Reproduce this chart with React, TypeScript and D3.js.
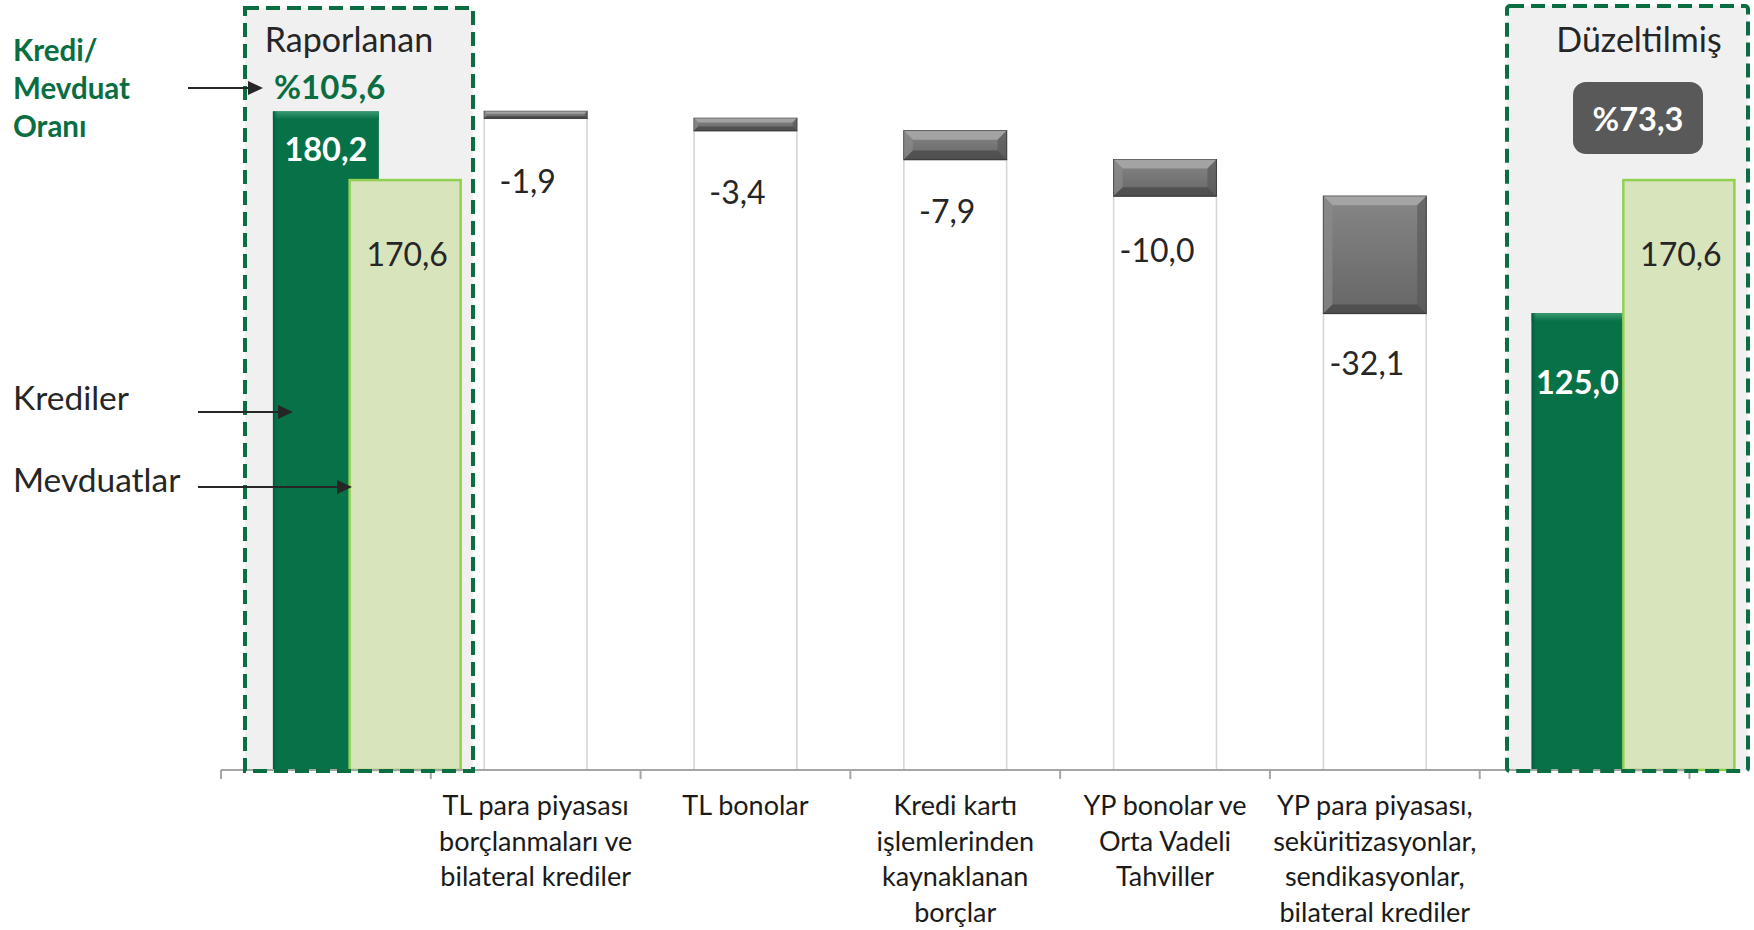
import React from "react";
import * as d3 from "d3";

// ---------- data ----------
const categoryLines: string[][] = [
  [],
  ["TL para piyasası", "borçlanmaları ve", "bilateral krediler"],
  ["TL bonolar"],
  ["Kredi kartı", "işlemlerinden", "kaynaklanan", "borçlar"],
  ["YP bonolar ve", "Orta Vadeli", "Tahviller"],
  ["YP para piyasası,", "seküritizasyonlar,", "sendikasyonlar,", "bilateral krediler"],
  [],
];
const krediler: (number | null)[] = [180.2, null, null, null, null, null, 125.0];
const mevduatlar: (number | null)[] = [170.6, null, null, null, null, null, 170.6];
const adjustments: (number | null)[] = [null, -1.9, -3.4, -7.9, -10.0, -32.1, null];
const oranlar = [105.6, 73.3];
const boxTitles = ["Raporlanan", "Düzeltilmiş"];
const ratioTitleLines = ["Kredi/", "Mevduat", "Oranı"];
const legendLabels = ["Krediler", "Mevduatlar"];

// ---------- layout ----------
const darkLabelDy = [50, 81];
const stepLabelDy = [75, 73, 63, 66, 62];
const W = 1754;
const H = 930;
const AXIS_Y = 770;
const FONT = "Lato, 'Open Sans', sans-serif";
const TXT = "#262626";
const DARK_GREEN = "#077148";
const LIGHT_GREEN = "#d8e4bc";
const LIGHT_GREEN_EDGE = "#92d050";
const BOX_GREEN = "#0a6e42";

const trLocale = d3.formatLocale({
  decimal: ",",
  thousands: ".",
  grouping: [3],
  currency: ["", ""],
  minus: "-",
});
const fmt = trLocale.format(".1f");

const idx = categoryLines.map((_, i) => i);
const x = d3.scaleBand<number>().domain(idx).range([221, 1689.5]).paddingInner(0).paddingOuter(0);
const x2 = d3.scaleBand<number>().domain(idx).range([299, 1785]).paddingInner(0).paddingOuter(0);
const y = d3.scaleLinear().domain([0, 200]).range([AXIS_Y, 39]);
const y2 = d3.scaleLinear().domain([0, 200]).range([AXIS_Y, 78.4]);

const greyW = x.bandwidth() * 0.49;
const darkW = x.bandwidth() * 0.505;
const lightW = x2.bandwidth() * 0.523;

// waterfall steps
type Step = { i: number; start: number; end: number; v: number };
const steps: Step[] = [];
{
  let running = krediler[0] as number;
  adjustments.forEach((a, i) => {
    if (a == null) return;
    steps.push({ i, start: running, end: running + a, v: a });
    running += a;
  });
}

function Arrow({ x1, x2: xe, yy }: { x1: number; x2: number; yy: number }) {
  return (
    <g>
      <line x1={x1} x2={xe - 12} y1={yy} y2={yy} stroke={TXT} strokeWidth={1.8} />
      <path d={`M${xe},${yy} L${xe - 15},${yy - 7} L${xe - 15},${yy + 7} Z`} fill={TXT} />
    </g>
  );
}

function GreyBar({ x0, y0, w, h }: { x0: number; y0: number; w: number; h: number }) {
  const b = Math.min(9, h / 3);
  return (
    <g>
      <rect x={x0} y={y0} width={w} height={h} fill="url(#greyGrad)" stroke="#3a3a3a" strokeWidth={1.2} />
      <path d={`M${x0},${y0} L${x0 + w},${y0} L${x0 + w - b},${y0 + b} L${x0 + b},${y0 + b} Z`} fill="#a9a9a9" opacity={0.85} />
      <path d={`M${x0},${y0} L${x0 + b},${y0 + b} L${x0 + b},${y0 + h - b} L${x0},${y0 + h} Z`} fill="#8a8a8a" opacity={0.7} />
      <path d={`M${x0 + w},${y0} L${x0 + w - b},${y0 + b} L${x0 + w - b},${y0 + h - b} L${x0 + w},${y0 + h} Z`} fill="#555" opacity={0.6} />
      <path d={`M${x0},${y0 + h} L${x0 + b},${y0 + h - b} L${x0 + w - b},${y0 + h - b} L${x0 + w},${y0 + h} Z`} fill="#404040" opacity={0.6} />
    </g>
  );
}

export default function App() {
  const dark = krediler
    .map((v, i) => ({ v, i }))
    .filter((d) => d.v != null) as { v: number; i: number }[];
  const light = mevduatlar
    .map((v, i) => ({ v, i }))
    .filter((d) => d.v != null) as { v: number; i: number }[];

  const ticks = d3.range(idx.length + 1).map((k) => 221 + k * x.step());

  return (
    <svg
      width={W}
      height={H}
      viewBox={`0 0 ${W} ${H}`}
      style={{ position: "absolute", left: 0, top: 0, background: "#fff" }}
      fontFamily={FONT}
    >
      <defs>
        <linearGradient id="greyGrad" x1="0" y1="0" x2="0" y2="1">
          <stop offset="0" stopColor="#868686" />
          <stop offset="1" stopColor="#666666" />
        </linearGradient>
        <linearGradient id="darkTop" x1="0" y1="0" x2="0" y2="1">
          <stop offset="0" stopColor="#3a9a70" />
          <stop offset="1" stopColor={DARK_GREEN} />
        </linearGradient>
        <linearGradient id="darkLeft" x1="0" y1="0" x2="1" y2="0">
          <stop offset="0" stopColor="#04573a" />
          <stop offset="1" stopColor={DARK_GREEN} stopOpacity={0} />
        </linearGradient>
      </defs>

      {/* highlighted boxes background */}
      <rect x={245} y={8} width={228} height={763} fill="#f0f0f0" />
      <rect x={1507} y={6} width={241} height={765} fill="#f0f0f0" />

      {/* white base bars */}
      {steps.map((s) => (
        <rect
          key={`w${s.i}`}
          x={(x(s.i) as number) + x.bandwidth() / 2 - greyW / 2}
          y={y(s.end)}
          width={greyW}
          height={AXIS_Y - y(s.end)}
          fill="#ffffff"
          stroke="#d6d6d6"
          strokeWidth={1.6}
        />
      ))}

      {/* grey decrement bars */}
      {steps.map((s) => (
        <GreyBar
          key={`g${s.i}`}
          x0={(x(s.i) as number) + x.bandwidth() / 2 - greyW / 2}
          y0={y(s.start)}
          w={greyW}
          h={y(s.end) - y(s.start)}
        />
      ))}

      {/* step labels */}
      {steps.map((s, k) => (
        <text
          key={`t${s.i}`}
          x={(x(s.i) as number) + x.bandwidth() / 2 - 8}
          y={y(s.end) + stepLabelDy[k]}
          textAnchor="middle"
          fontSize={32}
          fill={TXT}
        >
          {fmt(s.v)}
        </text>
      ))}

      {/* dark green bars (Krediler) */}
      {dark.map((d) => {
        const x0 = (x(d.i) as number) + x.bandwidth() / 2 - darkW / 2;
        const top = y(d.v);
        return (
          <g key={`d${d.i}`}>
            <rect x={x0} y={top} width={darkW} height={AXIS_Y - top} fill={DARK_GREEN} />
            <rect x={x0} y={top} width={darkW} height={8} fill="url(#darkTop)" />
            <rect x={x0} y={top} width={5} height={AXIS_Y - top} fill="url(#darkLeft)" />
          </g>
        );
      })}

      {/* light green bars (Mevduatlar) */}
      {light.map((d) => {
        const x0 = (x2(d.i) as number) + x2.bandwidth() / 2 - lightW / 2;
        const top = y2(d.v);
        return (
          <rect
            key={`l${d.i}`}
            x={x0}
            y={top}
            width={lightW}
            height={AXIS_Y - top}
            fill={LIGHT_GREEN}
            stroke={LIGHT_GREEN_EDGE}
            strokeWidth={2.5}
          />
        );
      })}

      {/* bar value labels */}
      {dark.map((d, k) => {
        const x0 = (x(d.i) as number) + x.bandwidth() / 2 - darkW / 2;
        const lightLeft = (x2(d.i) as number) + x2.bandwidth() / 2 - lightW / 2;
        const visRight = k === 0 ? x0 + darkW : lightLeft;
        return (
          <text
            key={`dl${d.i}`}
            x={(x0 + visRight) / 2}
            y={y(d.v) + darkLabelDy[k]}
            textAnchor="middle"
            fontSize={32.5}
            fontWeight={700}
            fill="#ffffff"
          >
            {fmt(d.v)}
          </text>
        );
      })}
      {light.map((d) => (
        <text
          key={`ll${d.i}`}
          x={(x2(d.i) as number) + x2.bandwidth() / 2 + 2}
          y={y2(d.v) + 86}
          textAnchor="middle"
          fontSize={32}
          fill={TXT}
        >
          {fmt(d.v)}
        </text>
      ))}

      {/* axis */}
      <line x1={221} x2={1689.5} y1={AXIS_Y} y2={AXIS_Y} stroke="#a6a6a6" strokeWidth={2} />
      {ticks.map((t, k) => (
        <line key={`tk${k}`} x1={t} x2={t} y1={AXIS_Y} y2={AXIS_Y + 9} stroke="#a6a6a6" strokeWidth={2} />
      ))}

      {/* dashed boxes */}
      <rect x={245} y={8} width={228} height={763} fill="none" stroke={BOX_GREEN} strokeWidth={4} strokeDasharray="14 7" />
      <rect x={1507} y={6} width={241} height={765} fill="none" stroke={BOX_GREEN} strokeWidth={4} strokeDasharray="14 7" rx={3} />

      {/* box titles */}
      <text x={349} y={52} textAnchor="middle" fontSize={34} fill={TXT}>
        {boxTitles[0]}
      </text>
      <text x={1639} y={52} textAnchor="middle" fontSize={34} fill={TXT}>
        {boxTitles[1]}
      </text>

      {/* ratio labels */}
      <text x={274} y={99} fontSize={33} fontWeight={700} fill={BOX_GREEN}>
        {"%" + fmt(oranlar[0])}
      </text>
      <rect x={1573} y={82} width={130} height={72} rx={13} fill="#595959" />
      <text x={1638} y={131} textAnchor="middle" fontSize={32.5} fontWeight={700} fill="#ffffff">
        {"%" + fmt(oranlar[1])}
      </text>

      {/* left annotations */}
      {ratioTitleLines.map((l, k) => (
        <text key={`rt${k}`} x={13} y={61 + k * 38} fontSize={29.5} fontWeight={700} fill={BOX_GREEN}>
          {l}
        </text>
      ))}
      <Arrow x1={188} x2={263} yy={88} />
      <text x={13} y={410} fontSize={33.5} fill={TXT}>
        {legendLabels[0]}
      </text>
      <Arrow x1={198} x2={293} yy={412} />
      <text x={13} y={492} fontSize={33.5} fill={TXT}>
        {legendLabels[1]}
      </text>
      <Arrow x1={198} x2={352} yy={487} />

      {/* category labels */}
      {categoryLines.map((lines, i) =>
        lines.map((l, k) => (
          <text
            key={`c${i}-${k}`}
            x={(x(i) as number) + x.bandwidth() / 2}
            y={815 + k * 35.7}
            textAnchor="middle"
            fontSize={27}
            fill="#1a1a1a"
          >
            {l}
          </text>
        ))
      )}
    </svg>
  );
}
